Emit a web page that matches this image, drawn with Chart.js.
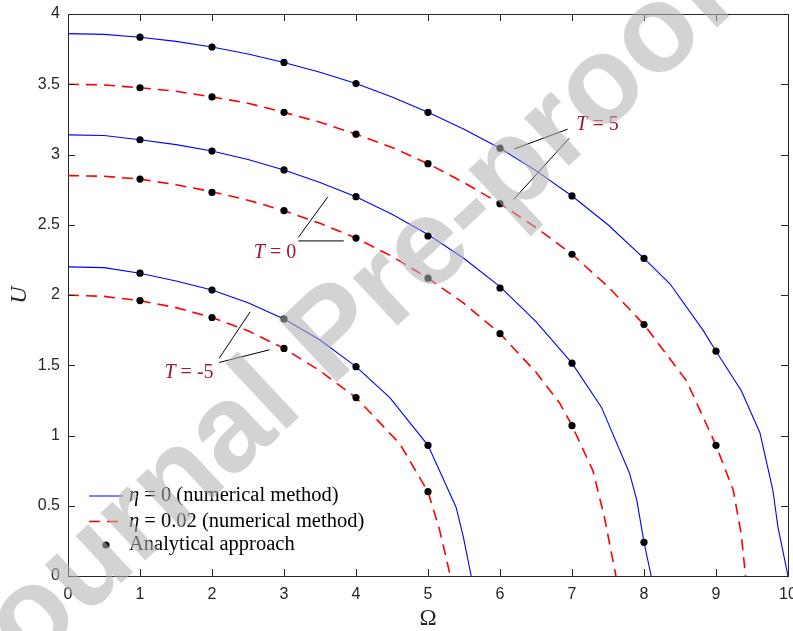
<!DOCTYPE html>
<html>
<head>
<meta charset="utf-8">
<script src="https://cdn.jsdelivr.net/npm/chart.js@4"></script>
<style>
  html, body { margin: 0; padding: 0; background: #fff; }
</style>
</head>
<body>
<canvas id="chart" width="793" height="631"></canvas>
<script>
// ── Data ─────────────────────────────────────────────────────
// Numerical curves U(Ω). One pair of arrays per T and η.

const omegaTicks = [0, 1, 2, 3, 4, 5, 6, 7, 8, 9, 10];
const uTicks = [0, 0.5, 1, 1.5, 2, 2.5, 3, 3.5, 4];

// T = 5
const omegaT5eta0 = [0, 0.5, 1, 1.5, 2, 2.5, 3, 3.5, 4, 4.5, 5, 5.5, 6, 6.5, 7, 7.5, 8, 8.36, 8.82, 9, 9.35, 9.61, 9.79, 9.86, 10];
const uT5eta0 = [3.86, 3.855, 3.835, 3.805, 3.765, 3.715, 3.655, 3.585, 3.505, 3.41, 3.3, 3.18, 3.045, 2.885, 2.705, 2.5, 2.26, 2.08, 1.75, 1.6, 1.32, 1.02, 0.61, 0.35, 0];
const omegaT5eta002 = [0, 0.5, 1, 1.5, 2, 2.5, 3, 3.5, 4, 4.5, 5, 5.5, 6, 6.5, 7, 7.5, 8, 8.59, 9, 9.24, 9.35, 9.41];
const uT5eta002 = [3.5, 3.495, 3.475, 3.45, 3.41, 3.365, 3.3, 3.23, 3.145, 3.05, 2.935, 2.8, 2.65, 2.48, 2.29, 2.06, 1.79, 1.39, 0.93, 0.61, 0.3, 0];

// T = 0
const omegaT0eta0 = [0, 0.5, 1, 1.5, 2, 2.5, 3, 3.5, 4, 4.5, 5, 5.5, 6, 6.5, 7, 7.41, 7.8, 7.9, 8, 8.1];
const uT0eta0 = [3.14, 3.135, 3.105, 3.07, 3.025, 2.965, 2.89, 2.8, 2.7, 2.575, 2.43, 2.26, 2.06, 1.81, 1.515, 1.2, 0.73, 0.54, 0.24, 0];
const omegaT0eta002 = [0, 0.5, 1, 1.5, 2, 2.5, 3, 3.5, 4, 4.5, 5, 5.5, 6, 6.5, 6.83, 7, 7.29, 7.45, 7.61];
const uT0eta002 = [2.85, 2.845, 2.825, 2.785, 2.735, 2.675, 2.6, 2.51, 2.405, 2.275, 2.12, 1.94, 1.725, 1.45, 1.23, 1.07, 0.75, 0.42, 0];

// T = -5
const omegaTm5eta0 = [0, 0.5, 1, 1.5, 2, 2.5, 3, 3.5, 4, 4.47, 5, 5.39, 5.49, 5.6];
const uTm5eta0 = [2.2, 2.195, 2.155, 2.1, 2.035, 1.945, 1.83, 1.68, 1.49, 1.27, 0.93, 0.49, 0.28, 0];
const omegaTm5eta002 = [0, 0.5, 1, 1.5, 2, 2.5, 3, 3.5, 4, 4.61, 5, 5.16, 5.31];
const uTm5eta002 = [2.0, 1.99, 1.96, 1.91, 1.84, 1.745, 1.62, 1.46, 1.27, 0.94, 0.6, 0.33, 0];

// Analytical approach, at Ω = 1, 2, 3, ...
const analyticOmega = [1, 2, 3, 4, 5, 6, 7, 8, 9];
const analyticT5eta0 = [3.835, 3.765, 3.655, 3.505, 3.3, 3.045, 2.705, 2.26, 1.6];
const analyticT5eta002 = [3.475, 3.41, 3.3, 3.145, 2.935, 2.65, 2.29, 1.79, 0.93];
const analyticT0eta0 = [3.105, 3.025, 2.89, 2.7, 2.42, 2.05, 1.515, 0.24];
const analyticT0eta002 = [2.825, 2.73, 2.6, 2.405, 2.12, 1.725, 1.07];
const analyticTm5eta0 = [2.155, 2.035, 1.83, 1.49, 0.93];
const analyticTm5eta002 = [1.96, 1.84, 1.62, 1.27, 0.6];

// Callout labels "T = ..." with their leader lines, in (Ω, U) coordinates
const calloutLabels = ["5", "0", "-5"];
const calloutAnchors = [[7.06, 3.21], [2.58, 2.30], [1.34, 1.445]];
const calloutLines = [
  [[6.20, 3.04, 6.94, 3.18], [6.19, 2.68, 6.96, 3.115]],
  [[3.20, 2.41, 3.61, 2.70], [3.20, 2.385, 3.83, 2.385]],
  [[2.10, 1.55, 2.53, 1.88], [2.10, 1.52, 2.80, 1.61]],
];

// ── Styling ──────────────────────────────────────────────────

const BLUE = "#0000ff";
const RED = "#ff0000";
const AXIS = "#262626";
const CALLOUT = "#a2142f";
const DASH = [11, 7];
const SERIF = '"Liberation Serif", "Times New Roman", serif';
const SANS = '"Liberation Sans", Arial, sans-serif';

const pairs = (xs, ys) => xs.map((x, i) => ({ x, y: ys[i] }));

function curve(xs, ys, color, dashed) {
  return {
    data: pairs(xs, ys),
    showLine: true,
    borderColor: color,
    borderWidth: dashed ? 1.6 : 1.1,
    borderDash: dashed ? DASH : [],
    pointRadius: 0,
    fill: false,
  };
}

function dots(ys) {
  return {
    data: pairs(analyticOmega.slice(0, ys.length), ys),
    showLine: false,
    pointRadius: 3.6,
    pointBackgroundColor: "#000",
    pointBorderWidth: 0,
  };
}

// ── Plugin: box, inward ticks, callouts, legend, watermark ──

const decorations = {
  id: "decorations",
  afterDatasetsDraw(chart) {
    const { ctx, chartArea: a, scales: { x, y } } = chart;
    ctx.save();

    // box + inward ticks on all four sides
    ctx.strokeStyle = AXIS;
    ctx.lineWidth = 1;
    ctx.beginPath();
    ctx.moveTo(a.left, a.top + 0.5);
    ctx.lineTo(a.right + 0.5, a.top + 0.5);
    ctx.lineTo(a.right + 0.5, a.bottom);
    const tl = 7;
    omegaTicks.forEach((v) => {
      const px = Math.round(x.getPixelForValue(v)) + 0.5;
      ctx.moveTo(px, a.bottom); ctx.lineTo(px, a.bottom - tl);
      ctx.moveTo(px, a.top); ctx.lineTo(px, a.top + tl);
    });
    uTicks.forEach((v) => {
      const py = Math.round(y.getPixelForValue(v)) + 0.5;
      ctx.moveTo(a.left, py); ctx.lineTo(a.left + tl, py);
      ctx.moveTo(a.right, py); ctx.lineTo(a.right - tl, py);
    });
    ctx.stroke();

    // callouts
    ctx.strokeStyle = "#000";
    ctx.lineWidth = 1;
    calloutLines.forEach((segs) => {
      segs.forEach(([x1, y1, x2, y2]) => {
        ctx.beginPath();
        ctx.moveTo(x.getPixelForValue(x1), y.getPixelForValue(y1));
        ctx.lineTo(x.getPixelForValue(x2), y.getPixelForValue(y2));
        ctx.stroke();
      });
    });
    ctx.fillStyle = CALLOUT;
    ctx.textBaseline = "middle";
    ctx.textAlign = "left";
    calloutLabels.forEach((lab, i) => {
      let px = x.getPixelForValue(calloutAnchors[i][0]);
      const py = y.getPixelForValue(calloutAnchors[i][1]);
      ctx.font = "italic 20px " + SERIF;
      ctx.fillText("T", px, py);
      px += ctx.measureText("T").width;
      ctx.font = "20px " + SERIF;
      ctx.fillText(" = " + lab, px, py);
    });

    // legend (lower left, no box)
    const lx0 = a.left + 21, lx1 = a.left + 55, tx = a.left + 61;
    const rows = [a.bottom - 80, a.bottom - 54.5, a.bottom - 31];
    ctx.lineWidth = 1.1;
    ctx.strokeStyle = BLUE;
    ctx.beginPath(); ctx.moveTo(lx0, rows[0]); ctx.lineTo(lx1, rows[0]); ctx.stroke();
    ctx.lineWidth = 1.6;
    ctx.strokeStyle = RED;
    ctx.setLineDash(DASH);
    ctx.beginPath(); ctx.moveTo(lx0, rows[1]); ctx.lineTo(lx1, rows[1]); ctx.stroke();
    ctx.setLineDash([]);
    ctx.fillStyle = "#000";
    ctx.beginPath(); ctx.arc((lx0 + lx1) / 2, rows[2], 3.6, 0, Math.PI * 2); ctx.fill();

    const legendText = [" = 0 (numerical method)", " = 0.02 (numerical method)"];
    const lf = "20.5px " + SERIF;
    legendText.forEach((t, i) => {
      ctx.font = "italic " + lf;
      ctx.fillText("η", tx, rows[i]);
      const w = ctx.measureText("η").width;
      ctx.font = lf;
      ctx.fillText(t, tx + w, rows[i]);
    });
    ctx.font = lf;
    ctx.fillText("Analytical approach", tx, rows[2]);
    ctx.restore();
  },
  afterDraw(chart) {
    // "Journal Pre-proof" watermark laid over the whole figure
    const { ctx } = chart;
    ctx.save();
    ctx.translate(335, 337);
    ctx.rotate((-43 * Math.PI) / 180);
    ctx.font = "bold 124px " + SANS;
    ctx.fillStyle = "rgba(178,178,178,0.57)";
    ctx.textAlign = "center";
    ctx.textBaseline = "middle";
    ctx.fillText("Journal Pre-proof", 0, 0);
    ctx.restore();
  },
};

// ── Chart ────────────────────────────────────────────────────

new Chart(document.getElementById("chart"), {
  type: "scatter",
  data: {
    datasets: [
      dots(analyticT5eta0),
      dots(analyticT5eta002),
      dots(analyticT0eta0),
      dots(analyticT0eta002),
      dots(analyticTm5eta0),
      dots(analyticTm5eta002),
      curve(omegaT5eta0, uT5eta0, BLUE, false),
      curve(omegaT5eta002, uT5eta002, RED, true),
      curve(omegaT0eta0, uT0eta0, BLUE, false),
      curve(omegaT0eta002, uT0eta002, RED, true),
      curve(omegaTm5eta0, uTm5eta0, BLUE, false),
      curve(omegaTm5eta002, uTm5eta002, RED, true),
    ],
  },
  options: {
    responsive: false,
    devicePixelRatio: 1,
    animation: false,
    events: [],
    layout: { padding: { left: 0, top: 14, right: 5, bottom: 0 } },
    plugins: { legend: { display: false }, tooltip: { enabled: false } },
    scales: {
      x: {
        type: "linear",
        min: 0,
        max: 10,
        afterBuildTicks: (s) => { s.ticks = omegaTicks.map((v) => ({ value: v })); },
        afterFit: (s) => { s.height = 55; s.paddingLeft = 0; s.paddingRight = 0; },
        grid: { display: false, drawTicks: false },
        border: { display: true, color: AXIS, width: 1 },
        ticks: {
          color: AXIS,
          font: { family: SANS, size: 16 },
          padding: 9,
          maxRotation: 0,
          autoSkip: false,
          callback: (v) => String(v),
        },
        title: {
          display: true,
          text: "Ω",
          color: AXIS,
          font: { family: SERIF, size: 23 },
          padding: { top: 0, bottom: -2 },
        },
      },
      y: {
        type: "linear",
        min: 0,
        max: 4,
        afterBuildTicks: (s) => { s.ticks = uTicks.map((v) => ({ value: v })); },
        afterFit: (s) => { s.width = 68; s.paddingTop = 0; s.paddingBottom = 0; },
        grid: { display: false, drawTicks: false },
        border: { display: true, color: AXIS, width: 1 },
        ticks: {
          color: AXIS,
          font: { family: SANS, size: 16 },
          padding: 8,
          autoSkip: false,
          callback: (v) => String(v),
        },
        title: {
          display: true,
          text: "U",
          color: AXIS,
          font: { family: SERIF, size: 24, style: "italic" },
          padding: { top: 5, bottom: 0 },
        },
      },
    },
  },
  plugins: [decorations],
});
</script>
</body>
</html>
